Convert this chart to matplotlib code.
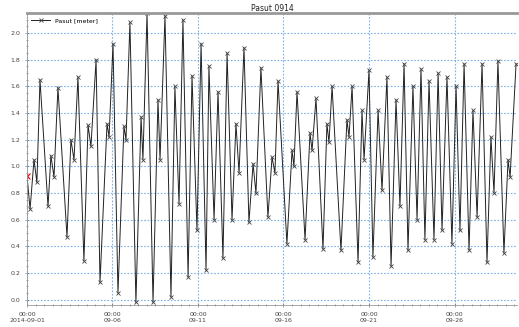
import matplotlib
matplotlib.use("Agg")
import matplotlib.pyplot as plt
import matplotlib.dates as mdates
import pandas as pd
from matplotlib.ticker import MultipleLocator, FuncFormatter

# tide readings: days after 2014-09-01 00:00 and water level [m]
days = [0.00, 0.18, 0.41, 0.58, 0.76, 1.23, 1.40, 1.58, 1.81, 2.34,
        2.57, 2.75, 2.98, 3.33, 3.57, 3.74, 4.04, 4.27, 4.68, 4.80,
        5.03, 5.32, 5.67, 5.79, 6.02, 6.37, 6.67, 6.78, 7.02, 7.37,
        7.66, 7.78, 8.07, 8.42, 8.65, 8.89, 9.12, 9.42, 9.65, 9.94,
        10.18, 10.47, 10.64, 10.94, 11.17, 11.46, 11.70, 11.99, 12.22, 12.40,
        12.69, 12.98, 13.22, 13.39, 13.68, 14.09, 14.33, 14.50, 14.68, 15.20,
        15.50, 15.61, 15.79, 16.26, 16.55, 16.67, 16.90, 17.31, 17.54, 17.66,
        17.84, 18.36, 18.71, 18.83, 19.01, 19.36, 19.59, 19.71, 20.00, 20.23,
        20.53, 20.76, 21.05, 21.29, 21.58, 21.81, 22.05, 22.28, 22.57, 22.81,
        23.04, 23.27, 23.51, 23.80, 24.04, 24.27, 24.56, 24.85, 25.09, 25.32,
        25.56, 25.85, 26.08, 26.32, 26.61, 26.90, 27.13, 27.31, 27.54, 27.89,
        28.13, 28.25, 28.60]
level = [0.93, 0.68, 1.05, 0.88, 1.65, 0.70, 1.08, 0.92, 1.59, 0.47,
         1.20, 1.05, 1.67, 0.29, 1.31, 1.15, 1.80, 0.13, 1.32, 1.22,
         1.92, 0.05, 1.30, 1.20, 2.08, -0.02, 1.37, 1.05, 2.15, -0.02,
         1.50, 1.05, 2.13, 0.02, 1.60, 0.72, 2.10, 0.17, 1.68, 0.52,
         1.92, 0.22, 1.75, 0.60, 1.56, 0.31, 1.85, 0.60, 1.32, 0.95,
         1.89, 0.58, 1.02, 0.80, 1.74, 0.62, 1.07, 0.95, 1.64, 0.42,
         1.12, 1.00, 1.56, 0.45, 1.25, 1.12, 1.51, 0.38, 1.32, 1.18,
         1.60, 0.37, 1.35, 1.22, 1.60, 0.28, 1.42, 1.05, 1.72, 0.32,
         1.42, 0.82, 1.67, 0.25, 1.50, 0.70, 1.77, 0.37, 1.60, 0.60,
         1.73, 0.45, 1.64, 0.45, 1.70, 0.52, 1.67, 0.42, 1.60, 0.52,
         1.77, 0.37, 1.42, 0.62, 1.77, 0.28, 1.22, 0.80, 1.79, 0.35,
         1.05, 0.92, 1.77]

start = pd.Timestamp("2014-09-01 00:00")
t = start + pd.to_timedelta(days, unit="D")

fig = plt.figure(figsize=(5.19, 3.27), dpi=100)
ax = fig.add_axes([0.052, 0.067, 0.944, 0.893])

ax.plot(t, level, "-", color="#222222", lw=0.7, marker="x", ms=3.5,
        mec="#444444", mew=0.6, label="Pasut [meter]")
ax.plot(t[:1], level[:1], "x", color="red", ms=4, mew=0.8)

ax.set_xlim(start, start + pd.Timedelta(days=28.65))
ax.set_ylim(-0.04, 2.15)

ax.yaxis.set_major_locator(MultipleLocator(0.2))
ax.yaxis.set_minor_locator(MultipleLocator(0.05))
ax.yaxis.set_major_formatter(FuncFormatter(lambda v, p: f"{v:.1f}"))

ax.xaxis.set_major_locator(mdates.DayLocator(bymonthday=[1, 6, 11, 16, 21, 26]))
ax.xaxis.set_minor_locator(mdates.HourLocator(byhour=[0, 12]))


def date_fmt(v, pos):
    d = mdates.num2date(v)
    if pos == 0:
        return d.strftime("%H:%M\n%Y-%m-%d")
    return d.strftime("%H:%M\n%m-%d")


ax.xaxis.set_major_formatter(FuncFormatter(date_fmt))

ax.grid(True, which="major", color="#5b9fe3", ls=(0, (1.5, 1.5)), lw=0.8, alpha=0.8)
ax.tick_params(which="both", direction="inout", colors="#777777",
               labelcolor="#444444", labelsize=4.5, length=3, width=0.5)
ax.tick_params(which="minor", length=2)

ax.spines["right"].set_visible(False)
ax.spines["top"].set_color("#999999")
ax.spines["top"].set_linewidth(2)
for s in ["left", "bottom"]:
    ax.spines[s].set_color("#999999")
    ax.spines[s].set_linewidth(0.6)

ax.set_title("Pasut 0914", fontsize=5.5, color="#222222", pad=1.5)
ax.legend(loc="upper left", fontsize=4.5, frameon=False, handlelength=3,
          borderaxespad=0.3)

fig.savefig("out.png", dpi=100)
